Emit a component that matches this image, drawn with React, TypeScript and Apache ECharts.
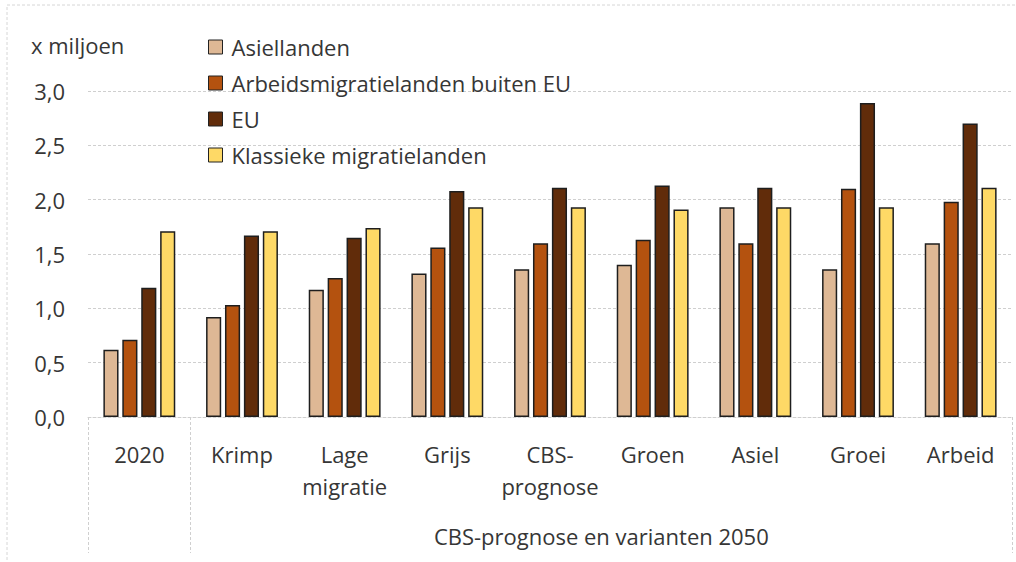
import React, { useEffect, useRef } from 'react';
import * as echarts from 'echarts';

const categories = ['2020', 'Krimp', 'Lage\nmigratie', 'Grijs', 'CBS-\nprognose', 'Groen', 'Asiel', 'Groei', 'Arbeid'];
const groupLabel = 'CBS-prognose en varianten 2050';
const unitLabel = 'x miljoen';
const seriesNames = ['Asiellanden', 'Arbeidsmigratielanden buiten EU', 'EU', 'Klassieke migratielanden'];
const asiellanden = [0.62, 0.92, 1.17, 1.32, 1.36, 1.40, 1.93, 1.36, 1.60];
const arbeidsmigratie = [0.71, 1.03, 1.28, 1.56, 1.60, 1.63, 1.60, 2.10, 1.98];
const eu = [1.19, 1.67, 1.65, 2.08, 2.11, 2.13, 2.11, 2.89, 2.70];
const klassiek = [1.71, 1.71, 1.74, 1.93, 1.93, 1.91, 1.93, 1.93, 2.11];
const seriesValues = [asiellanden, arbeidsmigratie, eu, klassiek];
const colors = ['#DEB895', '#B4520F', '#612C0A', '#FED966'];
const yMin = 0;
const yMax = 3;
const yInterval = 0.5;

const FONT = '"Open Sans", "Noto Sans", sans-serif';
const TEXT = '#363636';
const GRID = '#cfcfcf';

export default function App() {
  const ref = useRef<HTMLDivElement>(null);
  useEffect(() => {
    if (!ref.current) return;
    const chart = echarts.init(ref.current, undefined, { renderer: 'svg' });
    chart.setOption({
      animation: false,
      backgroundColor: '#ffffff',
      textStyle: { fontFamily: FONT },
      title: {
        text: unitLabel,
        left: 26,
        top: 29,
        textStyle: { fontFamily: FONT, fontSize: 22, fontWeight: 'normal', color: TEXT },
      },
      legend: {
        orient: 'vertical',
        left: 203,
        top: 31,
        itemWidth: 14,
        itemHeight: 14,
        itemGap: 14,
        icon: 'rect',
        data: seriesNames,
        textStyle: { fontFamily: FONT, fontSize: 22, color: TEXT, padding: [0, 0, 0, 4] },
        itemStyle: { borderColor: '#222', borderWidth: 1 },
      },
      grid: { left: 88, right: 4, top: 91, bottom: 145, containLabel: false },
      xAxis: {
        type: 'category',
        data: categories,
        axisLine: { show: true, lineStyle: { color: GRID, type: [3, 2], width: 1 } },
        axisTick: {
          show: true,
          interval: (i: number) => i <= 1,
          length: 136,
          lineStyle: { color: GRID, type: [3, 2], width: 1 },
        },
        axisLabel: {
          interval: 0,
          margin: 21,
          fontFamily: FONT,
          fontSize: 22,
          lineHeight: 32,
          color: TEXT,
        },
        splitLine: { show: false },
      },
      yAxis: {
        type: 'value',
        min: yMin,
        max: yMax,
        interval: yInterval,
        axisLine: { show: false },
        axisTick: { show: false },
        axisLabel: {
          margin: 23,
          fontFamily: FONT,
          fontSize: 22,
          color: TEXT,
          formatter: (v: number) => v.toFixed(1).replace('.', ','),
        },
        splitLine: { lineStyle: { color: GRID, type: [3, 2], width: 1 } },
      },
      series: seriesNames.map((name, i) => ({
        name,
        type: 'bar',
        data: seriesValues[i],
        barGap: '25%',
        barCategoryGap: '30%',
        itemStyle: { color: colors[i], borderColor: '#1e1e1e', borderWidth: 1.5 },
      })),
    });

    const x1 = chart.convertToPixel({ xAxisIndex: 0 }, categories[1]) as number;
    const x8 = chart.convertToPixel({ xAxisIndex: 0 }, categories[8]) as number;
    const y0 = chart.convertToPixel({ yAxisIndex: 0 }, yMin) as number;
    chart.setOption({
      graphic: [
        {
          type: 'text',
          x: (x1 + x8) / 2,
          y: y0 + 119,
          style: {
            text: groupLabel,
            fontFamily: FONT,
            fontSize: 22,
            fill: TEXT,
            align: 'center',
            verticalAlign: 'middle',
          },
        },
        {
          type: 'rect',
          shape: { x: 7, y: 5, width: 1200, height: 700 },
          style: { fill: 'none', stroke: '#d6d6d6', lineWidth: 1, lineDash: [3, 2] },
          silent: true,
        },
      ],
    });
    return () => chart.dispose();
  }, []);
  return (
    <div
      ref={ref}
      style={{ position: 'fixed', left: 0, top: 0, width: 1016, height: 562 }}
    />
  );
}
